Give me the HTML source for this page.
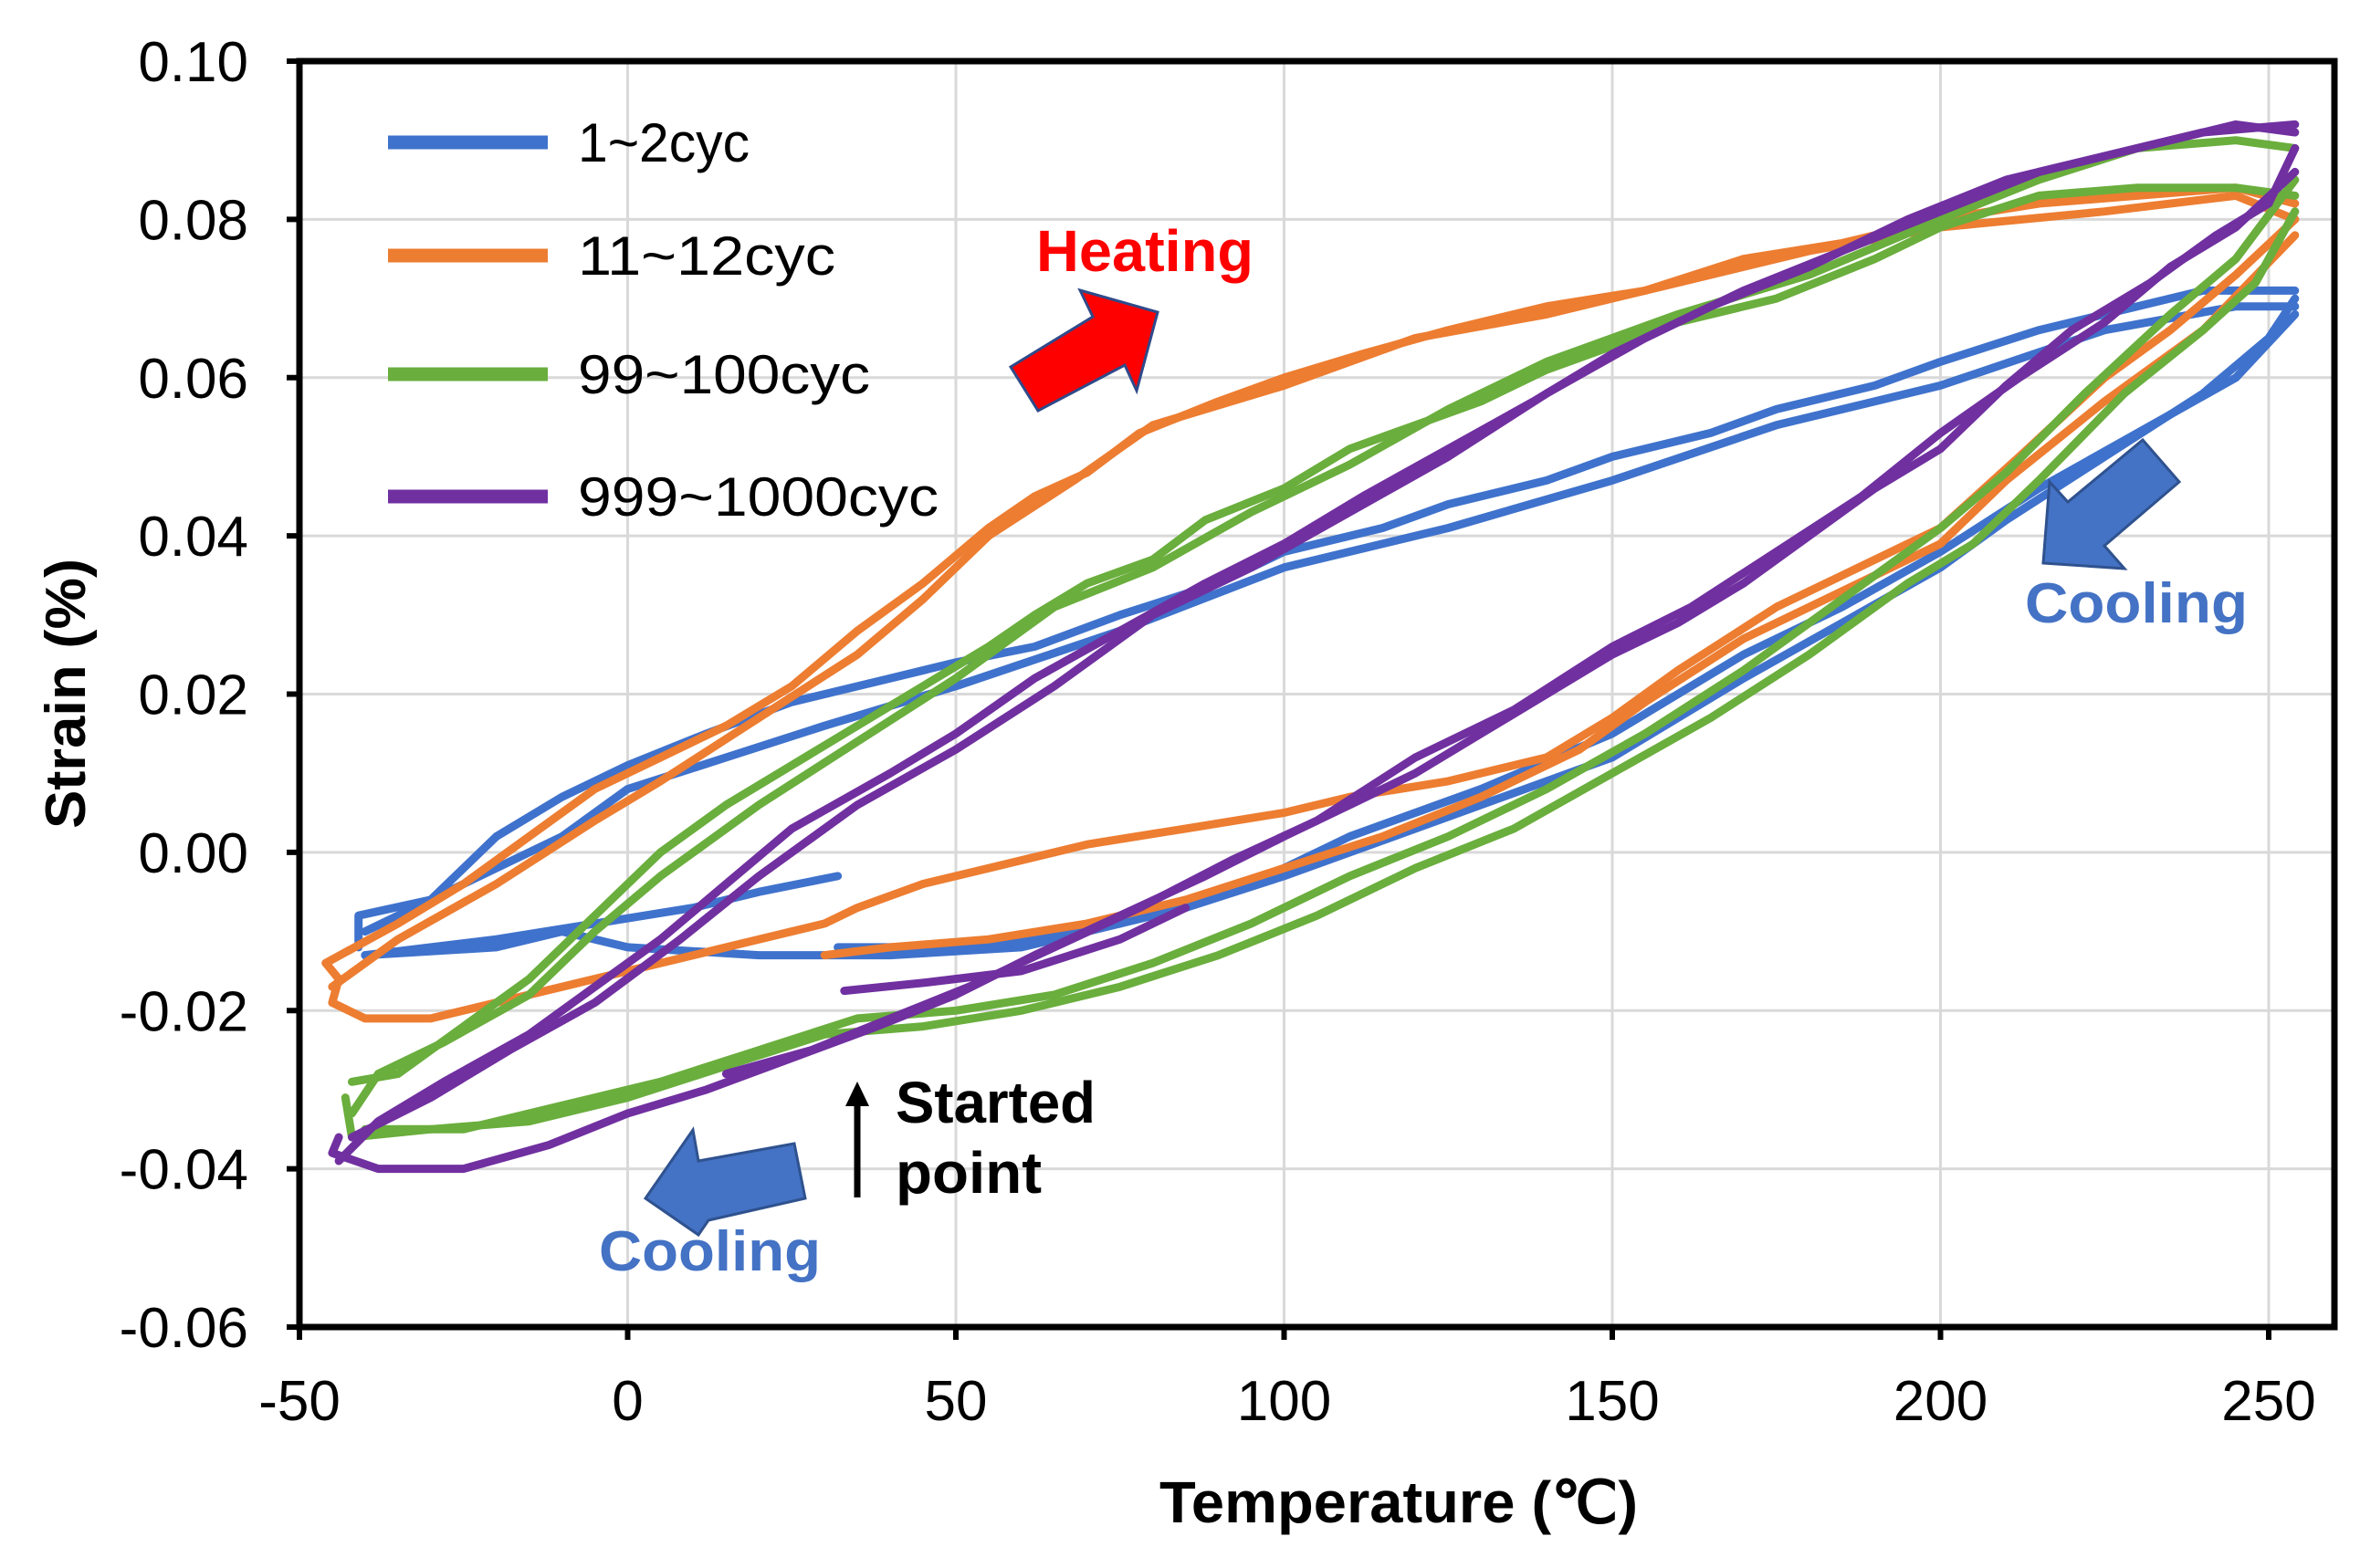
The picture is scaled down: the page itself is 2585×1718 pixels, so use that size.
<!DOCTYPE html>
<html><head><meta charset="utf-8"><style>
html,body{margin:0;padding:0;background:#fff;}
svg{display:block;font-family:"Liberation Sans",Arial,sans-serif;}
</style></head><body>
<svg id="chart" width="2585" height="1718" viewBox="0 0 2585 1718" xmlns="http://www.w3.org/2000/svg">
<rect width="2585" height="1718" fill="#fff"/>
<g id="grid"></g>
<g id="series"></g>
<g id="axes"></g>
<g>
 <line x1="425" y1="156" x2="600" y2="156" stroke="#3F72CC" stroke-width="15"/>
 <text x="633" y="177" font-size="60" textLength="188" lengthAdjust="spacingAndGlyphs">1~2cyc</text>
 <line x1="425" y1="280" x2="600" y2="280" stroke="#ED7D31" stroke-width="15"/>
 <text x="633" y="301" font-size="60" textLength="282" lengthAdjust="spacingAndGlyphs">11~12cyc</text>
 <line x1="425" y1="410" x2="600" y2="410" stroke="#6AAE3D" stroke-width="15"/>
 <text x="633" y="431" font-size="60" textLength="320" lengthAdjust="spacingAndGlyphs">99~100cyc</text>
 <line x1="425" y1="544" x2="600" y2="544" stroke="#7030A0" stroke-width="15"/>
 <text x="633" y="565" font-size="60" textLength="395" lengthAdjust="spacingAndGlyphs">999~1000cyc</text>
</g>
<g>
 <text x="1135" y="297" font-size="64" font-weight="bold" fill="#FF0000" textLength="238" lengthAdjust="spacingAndGlyphs">Heating</text>
 <polygon points="1107,402 1197,347 1183,318 1268,342 1245,428 1232,400 1137,450" fill="#FF0000" stroke="#2F4A8A" stroke-width="3"/>
 <polygon points="2238,617 2245,528 2265,550 2347,482 2387,528 2305,598 2327,623" fill="#4472C4" stroke="#2F528F" stroke-width="3"/>
 <text x="2218" y="682" font-size="62" font-weight="bold" fill="#4472C4" textLength="244" lengthAdjust="spacingAndGlyphs">Cooling</text>
 <polygon points="707,1313 759,1238 765,1272 870,1253 882,1313 776,1337 765,1353" fill="#4472C4" stroke="#2F528F" stroke-width="3"/>
 <text x="656" y="1392" font-size="62" font-weight="bold" fill="#4472C4" textLength="243" lengthAdjust="spacingAndGlyphs">Cooling</text>
 <line x1="939" y1="1312" x2="939" y2="1205" stroke="#000" stroke-width="7"/>
 <polygon points="939,1185 926,1212 952,1212" fill="#000"/>
 <text font-size="64" font-weight="bold" fill="#000"><tspan x="981" y="1230" textLength="219" lengthAdjust="spacingAndGlyphs">Started</tspan><tspan x="981" y="1307" textLength="160" lengthAdjust="spacingAndGlyphs">point</tspan></text>
</g>
<text x="1532" y="1668" text-anchor="middle" font-size="64" font-weight="bold" textLength="524" lengthAdjust="spacingAndGlyphs">Temperature (℃)</text>
<text transform="translate(93,760) rotate(-90)" text-anchor="middle" font-size="62" font-weight="bold" textLength="296" lengthAdjust="spacingAndGlyphs">Strain (%)</text>
</svg>
<script>
const xTicks = [-50, 0, 50, 100, 150, 200, 250];
const yTicks = [-0.06, -0.04, -0.02, 0.00, 0.02, 0.04, 0.06, 0.08, 0.10];
const yTickLabels = ["-0.06","-0.04","-0.02","0.00","0.02","0.04","0.06","0.08","0.10"];

// 1~2 cyc
const blueHeatA = [[-41,-0.012],[-41,-0.008],[-30,-0.006],[-20,0.002],[-10,0.007],[0,0.011],[12,0.015],[25,0.019],[40,0.022],[50,0.024],[62,0.026],[75,0.030],[90,0.034],[100,0.038],[115,0.041],[125,0.044],[140,0.047],[150,0.050],[165,0.053],[175,0.056],[190,0.059],[200,0.062],[215,0.066],[225,0.068],[240,0.071],[254,0.071]];
const blueCoolA = [[254,0.070],[250,0.065],[240,0.058],[225,0.050],[210,0.042],[200,0.036],[185,0.029],[170,0.022],[160,0.017],[150,0.012],[130,0.006],[110,0.000],[100,-0.003],[85,-0.007],[70,-0.010],[60,-0.012],[40,-0.013],[20,-0.013],[0,-0.012],[-10,-0.010],[-20,-0.012],[-40,-0.013]];
const blueHeatB = [[-40,-0.010],[-25,-0.004],[-10,0.002],[0,0.008],[15,0.012],[30,0.016],[50,0.021],[75,0.028],[100,0.036],[125,0.041],[150,0.047],[175,0.054],[200,0.059],[225,0.066],[245,0.069],[254,0.069]];
const blueCoolB = [[254,0.068],[245,0.060],[230,0.053],[215,0.046],[200,0.038],[185,0.031],[170,0.025],[150,0.015],[130,0.008],[110,0.002],[95,-0.004],[75,-0.009],[55,-0.012],[32,-0.012]];
const blueTail = [[-40,-0.013],[-20,-0.011],[-5,-0.009],[10,-0.007],[20,-0.005],[32,-0.003]];

// 11~12 cyc
const orangeHeatA = [[-46,-0.014],[-35,-0.009],[-25,-0.004],[-15,0.002],[-5,0.008],[5,0.012],[15,0.016],[25,0.021],[35,0.028],[45,0.034],[55,0.041],[62,0.045],[70,0.048],[78,0.053],[90,0.057],[100,0.060],[112,0.063],[125,0.066],[140,0.069],[155,0.071],[170,0.075],[185,0.077],[200,0.080],[215,0.082],[230,0.083],[245,0.084],[254,0.082]];
const orangeHeatB = [[-45,-0.017],[-35,-0.011],[-20,-0.004],[-5,0.004],[5,0.009],[20,0.017],[35,0.025],[45,0.032],[55,0.040],[68,0.047],[80,0.054],[100,0.059],[120,0.065],[140,0.068],[160,0.072],[180,0.076],[200,0.079],[225,0.081],[245,0.083],[254,0.080]];
const orangeCoolA = [[254,0.080],[245,0.073],[235,0.066],[225,0.060],[212,0.050],[200,0.041],[185,0.035],[175,0.031],[160,0.023],[150,0.017],[140,0.012],[125,0.009],[110,0.007],[100,0.005],[85,0.003],[70,0.001],[55,-0.002],[45,-0.004],[35,-0.007],[30,-0.009],[15,-0.012],[0,-0.015],[-15,-0.018],[-30,-0.021],[-40,-0.021],[-45,-0.019],[-44,-0.016],[-46,-0.014]];
const orangeCoolB = [[254,0.078],[240,0.066],[225,0.057],[210,0.047],[200,0.039],[185,0.033],[170,0.027],[155,0.019],[145,0.013],[130,0.007],[115,0.002],[100,-0.002],[85,-0.006],[70,-0.009],[55,-0.011],[40,-0.012],[30,-0.013]];

// 99~100 cyc
const greenHeatA = [[-42,-0.029],[-35,-0.028],[-25,-0.022],[-15,-0.016],[-5,-0.008],[5,0.000],[15,0.006],[25,0.011],[35,0.016],[45,0.021],[55,0.026],[62,0.030],[70,0.034],[80,0.037],[88,0.042],[100,0.046],[110,0.051],[120,0.054],[130,0.057],[140,0.061],[150,0.064],[160,0.067],[175,0.070],[190,0.075],[200,0.079],[215,0.083],[230,0.084],[245,0.084],[254,0.083]];
const greenHeatB = [[-42,-0.033],[-38,-0.028],[-28,-0.024],[-15,-0.018],[-5,-0.010],[5,-0.003],[20,0.006],[35,0.014],[50,0.022],[65,0.031],[80,0.036],[95,0.043],[110,0.049],[125,0.056],[140,0.062],[160,0.068],[180,0.073],[200,0.080],[215,0.085],[230,0.089],[245,0.090],[254,0.089]];
const greenCoolA = [[254,0.081],[248,0.072],[240,0.066],[228,0.058],[215,0.047],[205,0.039],[195,0.034],[180,0.025],[165,0.017],[150,0.010],[135,0.003],[120,-0.002],[105,-0.008],[90,-0.013],[75,-0.017],[60,-0.020],[45,-0.022],[30,-0.023],[15,-0.027],[0,-0.031],[-15,-0.034],[-30,-0.035],[-42,-0.036],[-43,-0.031]];
const greenCoolB = [[254,0.085],[245,0.075],[235,0.068],[222,0.058],[210,0.048],[200,0.041],[185,0.032],[170,0.023],[155,0.015],[140,0.008],[125,0.002],[110,-0.003],[95,-0.009],[80,-0.014],[65,-0.018],[50,-0.020],[35,-0.021],[20,-0.025],[5,-0.029],[-10,-0.032],[-25,-0.035],[-40,-0.035]];

// 999~1000 cyc
const purpleHeatA = [[-44,-0.039],[-38,-0.034],[-28,-0.029],[-15,-0.023],[-5,-0.017],[5,-0.011],[15,-0.004],[25,0.003],[40,0.010],[50,0.015],[62,0.022],[75,0.028],[88,0.034],[100,0.039],[112,0.045],[125,0.051],[138,0.057],[150,0.063],[165,0.069],[180,0.074],[195,0.080],[210,0.085],[225,0.088],[240,0.091],[254,0.092]];
const purpleHeatB = [[-42,-0.036],[-30,-0.031],[-18,-0.025],[-5,-0.019],[8,-0.011],[20,-0.003],[35,0.006],[50,0.013],[65,0.021],[80,0.030],[95,0.036],[110,0.043],[125,0.050],[140,0.058],[155,0.065],[170,0.071],[185,0.076],[200,0.081],[215,0.086],[230,0.089],[245,0.092],[254,0.091]];
const purpleCoolA = [[254,0.089],[250,0.082],[242,0.078],[232,0.072],[220,0.066],[210,0.059],[200,0.051],[190,0.046],[180,0.040],[170,0.034],[160,0.029],[150,0.025],[140,0.020],[130,0.015],[120,0.010],[110,0.006],[100,0.002],[88,-0.003],[75,-0.008],[62,-0.013],[50,-0.018],[38,-0.022],[25,-0.026],[12,-0.030],[0,-0.033],[-12,-0.037],[-25,-0.040],[-38,-0.040],[-45,-0.038],[-44,-0.036]];
const purpleCoolB = [[254,0.086],[245,0.079],[235,0.074],[225,0.067],[212,0.060],[200,0.053],[188,0.045],[175,0.038],[162,0.031],[150,0.026],[135,0.018],[120,0.012],[105,0.004],[92,-0.001],[78,-0.007],[65,-0.012],[52,-0.017],[40,-0.021],[28,-0.025],[15,-0.028]];
const purpleTail = [[33,-0.0175],[45,-0.0165],[60,-0.015],[75,-0.011],[85,-0.007]];

const X0 = 328, X1 = 2485, Y0 = 1454, Y1 = 67;
const L = 328, R = 2557, T = 67, B = 1454;
function xs(v){ return X0 + (v + 50) / 300 * (X1 - X0); }
function ys(v){ return Y0 - (v + 0.06) / 0.16 * (Y0 - Y1); }
const NS = "http://www.w3.org/2000/svg";
function mk(tag, attrs, parent){ const e = document.createElementNS(NS, tag); for (const k in attrs) e.setAttribute(k, attrs[k]); parent.appendChild(e); return e; }

const grid = document.getElementById('grid');
const axes = document.getElementById('axes');
const seriesG = document.getElementById('series');

xTicks.forEach(function(t){
  const x = xs(t);
  if (t > -50) {
    const g = mk('line', {x1:x, y1:T, x2:x, y2:B, stroke:'#d9d9d9', 'stroke-width':3}, grid);
    
    
  }
  const tk = mk('line', {x1:x, y1:B, x2:x, y2:B+14, stroke:'#000', 'stroke-width':6}, axes);
  
  
  const lb = mk('text', {x:x, y:1556, 'text-anchor':'middle', 'font-size':62}, axes);
  lb.textContent = String(t);
  
  
});
yTicks.forEach(function(t, i){
  const y = ys(t);
  if (i > 0 && i < yTicks.length - 1) {
    const g = mk('line', {x1:L, y1:y, x2:R, y2:y, stroke:'#d9d9d9', 'stroke-width':3}, grid);
    
    
  }
  const tk = mk('line', {x1:L-14, y1:y, x2:L, y2:y, stroke:'#000', 'stroke-width':6}, axes);
  
  
  const lb = mk('text', {x:272, y:y+22, 'text-anchor':'end', 'font-size':62}, axes);
  lb.textContent = yTickLabels[i];
  
  
});
const frame = mk('rect', {x:L, y:T, width:R-L, height:B-T, fill:'none', stroke:'#000', 'stroke-width':7}, axes);



const traces = [
  ['#3F72CC', blueHeatA, 'series-1-2cyc'], ['#3F72CC', blueCoolA, 'series-1-2cyc'], ['#3F72CC', blueHeatB, 'series-1-2cyc'], ['#3F72CC', blueCoolB, 'series-1-2cyc'], ['#3F72CC', blueTail, 'series-1-2cyc'],
  ['#ED7D31', orangeHeatA, 'series-11-12cyc'], ['#ED7D31', orangeHeatB, 'series-11-12cyc'], ['#ED7D31', orangeCoolA, 'series-11-12cyc'], ['#ED7D31', orangeCoolB, 'series-11-12cyc'],
  ['#6AAE3D', greenHeatA, 'series-99-100cyc'], ['#6AAE3D', greenHeatB, 'series-99-100cyc'], ['#6AAE3D', greenCoolA, 'series-99-100cyc'], ['#6AAE3D', greenCoolB, 'series-99-100cyc'],
  ['#7030A0', purpleHeatA, 'series-999-1000cyc'], ['#7030A0', purpleHeatB, 'series-999-1000cyc'], ['#7030A0', purpleCoolA, 'series-999-1000cyc'], ['#7030A0', purpleCoolB, 'series-999-1000cyc'], ['#7030A0', purpleTail, 'series-999-1000cyc']
];
traces.forEach(function(tr){
  const d = tr[1].map(function(p, i){ return (i ? 'L' : 'M') + xs(p[0]).toFixed(1) + ',' + ys(p[1]).toFixed(1); }).join('');
  const p = mk('path', {d:d, fill:'none', stroke:tr[0], 'stroke-width':9, 'stroke-linejoin':'round', 'stroke-linecap':'round'}, seriesG);
  
  
});
</script>
</body></html>
